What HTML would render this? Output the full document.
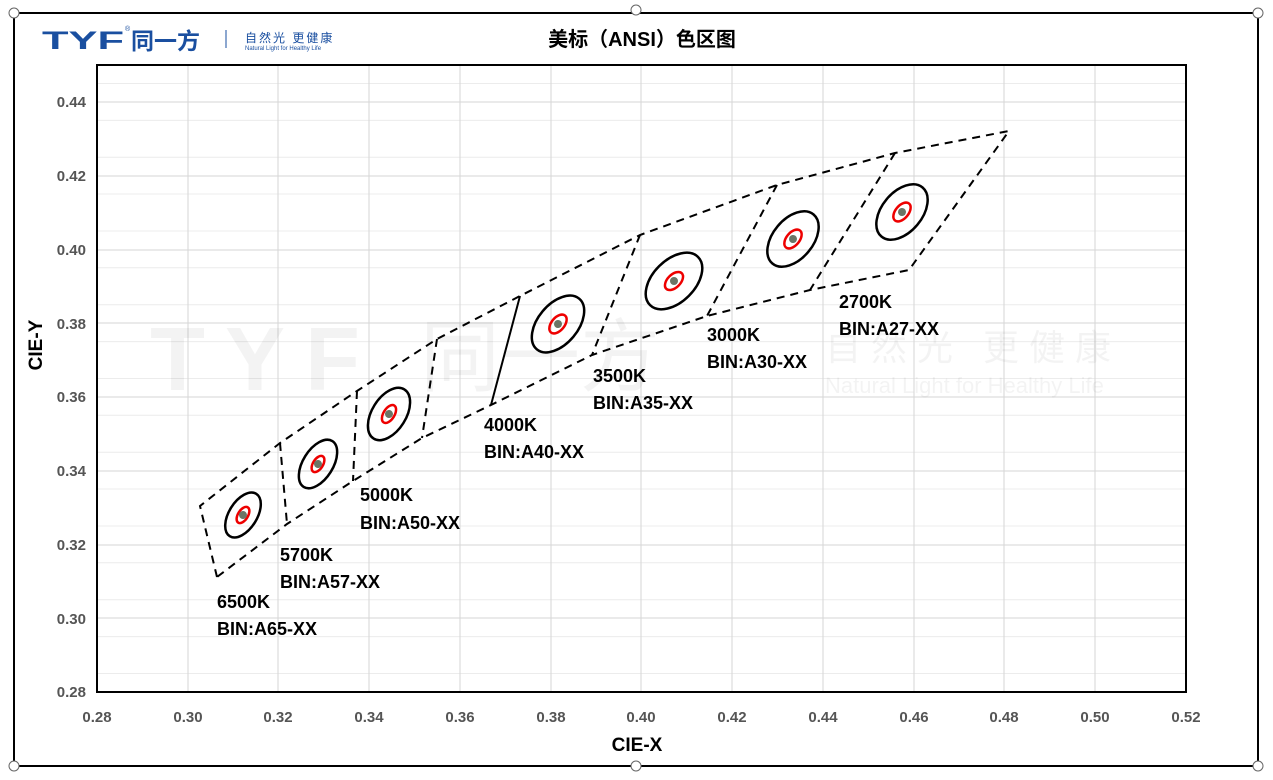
<!DOCTYPE html>
<html><head><meta charset="utf-8"><style>
body{margin:0;background:#fff;width:1273px;height:775px;overflow:hidden;font-family:"Liberation Sans","Noto Sans CJK SC",sans-serif}
</style></head><body>
<svg width="1273" height="775" xmlns="http://www.w3.org/2000/svg" font-family="Liberation Sans, Noto Sans CJK SC, sans-serif">
<rect x="14" y="13" width="1244" height="753" fill="#fff" stroke="#000" stroke-width="2"/>
<g fill="#fff" stroke="#666" stroke-width="1">
<circle cx="14" cy="13" r="5"/><circle cx="636" cy="10" r="5"/><circle cx="1258" cy="13" r="5"/>
<circle cx="14" cy="766" r="5"/><circle cx="636" cy="766" r="5"/><circle cx="1258" cy="766" r="5"/></g>
<text x="42" y="49" font-size="25" font-weight="bold" fill="#1a4fa0" transform="scale(1,1)" textLength="82" lengthAdjust="spacingAndGlyphs">TYF</text>
<text x="125" y="31" font-size="7" fill="#1a4fa0">®</text>
<text x="131" y="49" font-size="23" font-weight="bold" fill="#1a4fa0">同一方</text>
<line x1="226" y1="30" x2="226" y2="48" stroke="#1a4fa0"/>
<text x="245" y="42" font-size="12" fill="#1a4fa0" letter-spacing="2">自然光 更健康</text>
<text x="245" y="50" font-size="6" fill="#1a4fa0">Natural Light for Healthy Life</text>
<text x="642" y="46" font-size="20" font-weight="bold" text-anchor="middle" fill="#000">美标（ANSI）色区图</text>
<g stroke="#ececec" stroke-width="1">
<line x1="97" y1="673.5" x2="1186" y2="673.5"/><line x1="97" y1="636.6" x2="1186" y2="636.6"/><line x1="97" y1="599.7" x2="1186" y2="599.7"/><line x1="97" y1="562.8" x2="1186" y2="562.8"/><line x1="97" y1="526" x2="1186" y2="526"/><line x1="97" y1="489" x2="1186" y2="489"/><line x1="97" y1="452.2" x2="1186" y2="452.2"/><line x1="97" y1="415.3" x2="1186" y2="415.3"/><line x1="97" y1="378.5" x2="1186" y2="378.5"/><line x1="97" y1="341.6" x2="1186" y2="341.6"/><line x1="97" y1="304.7" x2="1186" y2="304.7"/><line x1="97" y1="267.8" x2="1186" y2="267.8"/><line x1="97" y1="231" x2="1186" y2="231"/><line x1="97" y1="194" x2="1186" y2="194"/><line x1="97" y1="157.2" x2="1186" y2="157.2"/><line x1="97" y1="120.4" x2="1186" y2="120.4"/><line x1="97" y1="83.5" x2="1186" y2="83.5"/>
</g>
<g stroke="#d6d6d6" stroke-width="1">
<line x1="97" y1="618" x2="1186" y2="618"/><line x1="97" y1="545" x2="1186" y2="545"/><line x1="97" y1="471" x2="1186" y2="471"/><line x1="97" y1="397" x2="1186" y2="397"/><line x1="97" y1="323" x2="1186" y2="323"/><line x1="97" y1="250" x2="1186" y2="250"/><line x1="97" y1="176" x2="1186" y2="176"/><line x1="97" y1="102" x2="1186" y2="102"/>
<line x1="188" y1="65" x2="188" y2="692"/><line x1="278" y1="65" x2="278" y2="692"/><line x1="369" y1="65" x2="369" y2="692"/><line x1="460" y1="65" x2="460" y2="692"/><line x1="551" y1="65" x2="551" y2="692"/><line x1="641" y1="65" x2="641" y2="692"/><line x1="732" y1="65" x2="732" y2="692"/><line x1="823" y1="65" x2="823" y2="692"/><line x1="914" y1="65" x2="914" y2="692"/><line x1="1004" y1="65" x2="1004" y2="692"/><line x1="1095" y1="65" x2="1095" y2="692"/>
</g>
<g fill="#000" opacity="0.045">
<text x="150" y="390" font-size="90" font-weight="bold" letter-spacing="20">TYF</text>
<text x="420" y="385" font-size="80">同一方</text>
<text x="825" y="360" font-size="36" letter-spacing="10">自然光 更健康</text>
<text x="825" y="393" font-size="22">Natural Light for Healthy Life</text>
</g>
<rect x="97" y="65" width="1089" height="627" fill="none" stroke="#000" stroke-width="2"/>
<g font-size="15" font-weight="bold" fill="#555" text-anchor="end">
<text x="86" y="697">0.28</text><text x="86" y="624">0.30</text><text x="86" y="550">0.32</text><text x="86" y="476">0.34</text><text x="86" y="402">0.36</text><text x="86" y="329">0.38</text><text x="86" y="255">0.40</text><text x="86" y="181">0.42</text><text x="86" y="107">0.44</text>
</g>
<g font-size="15" font-weight="bold" fill="#555" text-anchor="middle">
<text x="97" y="722">0.28</text><text x="188" y="722">0.30</text><text x="278" y="722">0.32</text><text x="369" y="722">0.34</text><text x="460" y="722">0.36</text><text x="551" y="722">0.38</text><text x="641" y="722">0.40</text><text x="732" y="722">0.42</text><text x="823" y="722">0.44</text><text x="914" y="722">0.46</text><text x="1004" y="722">0.48</text><text x="1095" y="722">0.50</text><text x="1186" y="722">0.52</text>
</g>
<text x="637" y="751" font-size="19" font-weight="bold" text-anchor="middle">CIE-X</text>
<text transform="translate(42,345) rotate(-90)" font-size="19" font-weight="bold" text-anchor="middle">CIE-Y</text>
<g fill="none" stroke="#000" stroke-width="2" stroke-dasharray="8,6">
<polyline points="217,577 200,506 280,443 357,391 437,339 520,296 640,235 777,185 895,153 1009,131 909,270 810,290 707,316 592,355 491,405 422,438 353,481 287,524 217,577"/>
<line x1="280" y1="443" x2="287" y2="524"/><line x1="357" y1="391" x2="353" y2="481"/><line x1="437" y1="339" x2="422" y2="438"/><line x1="640" y1="235" x2="592" y2="355"/><line x1="777" y1="185" x2="707" y2="316"/><line x1="895" y1="153" x2="810" y2="290"/>
</g>
<line x1="520" y1="296" x2="491" y2="405" stroke="#000" stroke-width="2"/>
<g fill="none" stroke-width="2.5">
<g transform="translate(243,515) rotate(-58)"><ellipse rx="25" ry="14" stroke="#000"/><ellipse rx="9" ry="5" stroke="#e00"/><circle r="4" fill="#6b7566" stroke="none"/></g>
<g transform="translate(318,464) rotate(-58)"><ellipse rx="27" ry="15" stroke="#000"/><ellipse rx="9" ry="5" stroke="#e00"/><circle r="4" fill="#6b7566" stroke="none"/></g>
<g transform="translate(389,414) rotate(-58)"><ellipse rx="29" ry="17" stroke="#000"/><ellipse rx="10" ry="5.5" stroke="#e00"/><circle r="4" fill="#6b7566" stroke="none"/></g>
<g transform="translate(558,324) rotate(-50)"><ellipse rx="33" ry="20" stroke="#000"/><ellipse rx="11" ry="6.5" stroke="#e00"/><circle r="4" fill="#6b7566" stroke="none"/></g>
<g transform="translate(674,281) rotate(-45)"><ellipse rx="34" ry="21" stroke="#000"/><ellipse rx="11" ry="6.5" stroke="#e00"/><circle r="4" fill="#6b7566" stroke="none"/></g>
<g transform="translate(793,239) rotate(-50)"><ellipse rx="32" ry="20" stroke="#000"/><ellipse rx="11" ry="6.5" stroke="#e00"/><circle r="4" fill="#6b7566" stroke="none"/></g>
<g transform="translate(902,212) rotate(-50)"><ellipse rx="32" ry="20" stroke="#000"/><ellipse rx="11" ry="6.5" stroke="#e00"/><circle r="4" fill="#6b7566" stroke="none"/></g>
</g>
<g font-size="18" font-weight="bold" fill="#000">
<text x="217" y="608">6500K</text><text x="217" y="635">BIN:A65-XX</text>
<text x="280" y="561">5700K</text><text x="280" y="588">BIN:A57-XX</text>
<text x="360" y="501">5000K</text><text x="360" y="529">BIN:A50-XX</text>
<text x="484" y="431">4000K</text><text x="484" y="458">BIN:A40-XX</text>
<text x="593" y="382">3500K</text><text x="593" y="409">BIN:A35-XX</text>
<text x="707" y="341">3000K</text><text x="707" y="368">BIN:A30-XX</text>
<text x="839" y="308">2700K</text><text x="839" y="335">BIN:A27-XX</text>
</g>
</svg>
</body></html>
